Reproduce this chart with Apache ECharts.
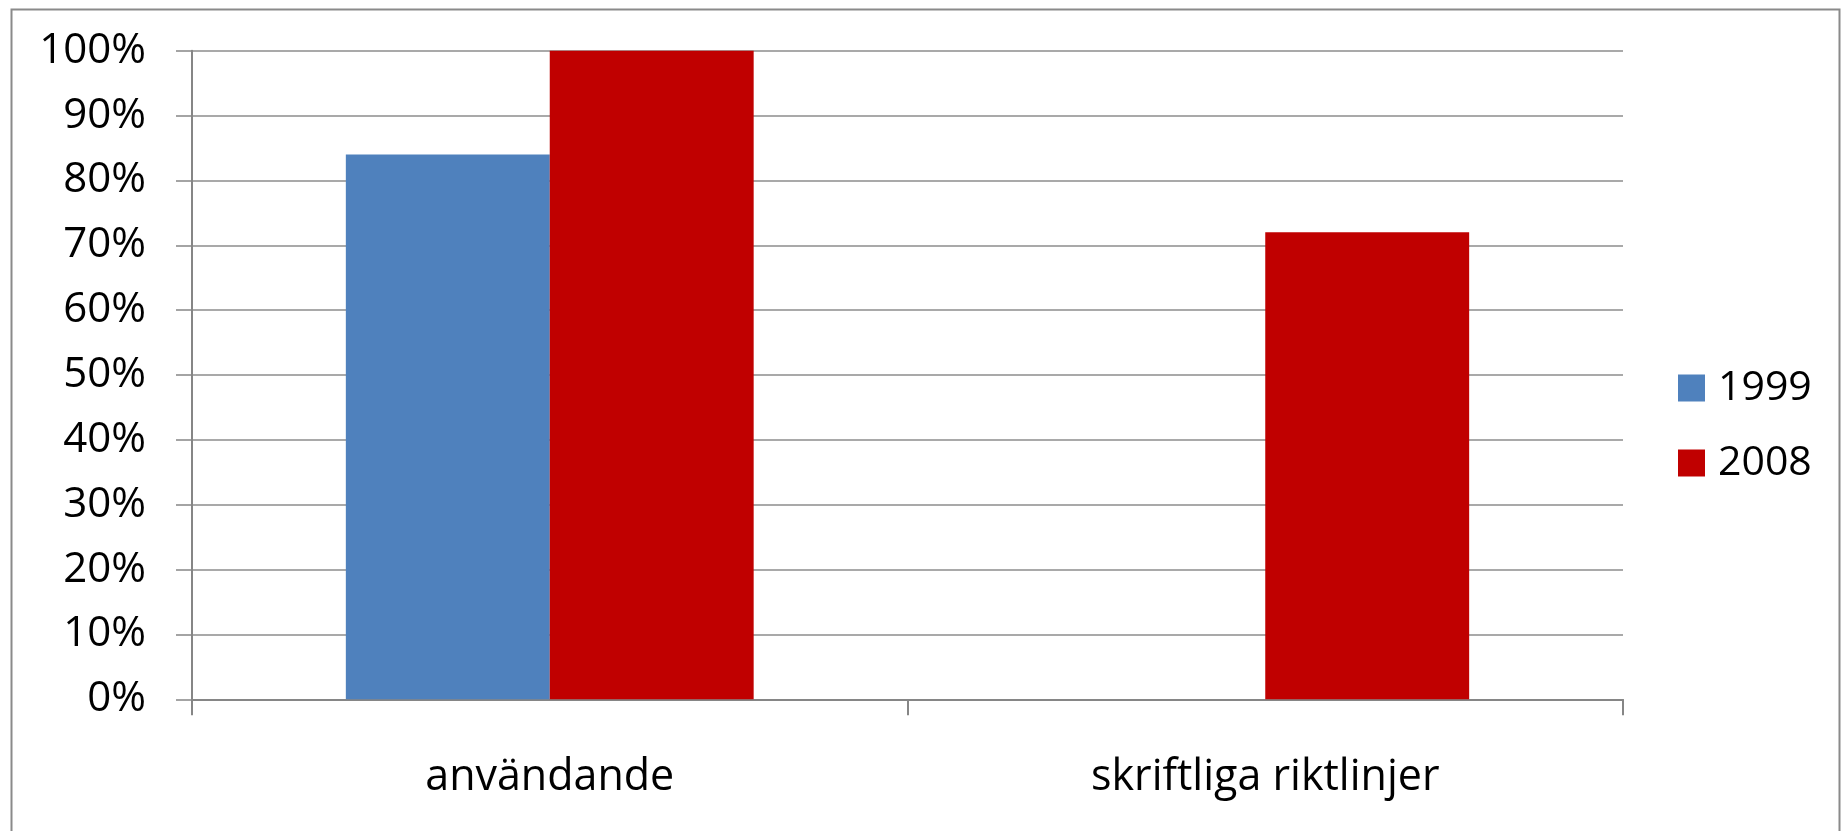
<!DOCTYPE html>
<html><head><meta charset="utf-8">
<script src="https://cdn.jsdelivr.net/npm/echarts@6/dist/echarts.min.js"></script>
<style>html,body{margin:0;padding:0;background:#fff}#c{width:1843px;height:831px}</style>
</head><body><div id="c"></div>
<script>
const categories = ['användande', 'skriftliga riktlinjer'];
const seriesNames = ['1999', '2008'];
const values1999 = [84, 0];
const values2008 = [100, 72];
const yTicks = [0, 10, 20, 30, 40, 50, 60, 70, 80, 90, 100];

const FONT = 'Open Sans';
const chart = echarts.init(document.getElementById('c'));
chart.setOption({
  animation: false,
  backgroundColor: '#fff',
  textStyle: { fontFamily: FONT },
  graphic: [{
    type: 'rect', left: 9, top: 7, silent: true,
    shape: { width: 1828, height: 900 },
    style: { fill: 'none', stroke: '#8a8a8a', lineWidth: 2 }
  }],
  grid: { left: 192, right: 220, top: 50.7, bottom: 131.7 },
  legend: {
    orient: 'vertical', left: 1673, top: 358,
    itemWidth: 27, itemHeight: 27, itemGap: 25,
    icon: 'rect',
    textStyle: { fontFamily: FONT, fontSize: 41, color: '#000', lineHeight: 50, padding: [0, 0, 0, 8] },
    data: seriesNames
  },
  xAxis: {
    type: 'category', data: categories,
    axisLine: { lineStyle: { color: '#868686', width: 2 } },
    axisTick: { show: true, length: 16, lineStyle: { color: '#868686', width: 2 } },
    axisLabel: { color: '#000', fontSize: 43, fontFamily: FONT, margin: 57 }
  },
  yAxis: {
    type: 'value', min: yTicks[0], max: yTicks[yTicks.length - 1], interval: 10,
    axisLine: { show: true, lineStyle: { color: '#868686', width: 2 } },
    axisTick: { show: true, length: 16, lineStyle: { color: '#868686', width: 1.5 } },
    splitLine: { lineStyle: { color: '#8c8c8c', width: 1.5 } },
    axisLabel: { color: '#000', fontSize: 42, fontFamily: FONT, margin: 46, formatter: v => v + '%' }
  },
  series: [
    { name: seriesNames[0], type: 'bar', data: values1999, itemStyle: { color: '#4F81BD' }, barGap: '0%', barCategoryGap: '43%' },
    { name: seriesNames[1], type: 'bar', data: values2008, itemStyle: { color: '#C00000' }, barGap: '0%', barCategoryGap: '43%' }
  ]
});
</script></body></html>
